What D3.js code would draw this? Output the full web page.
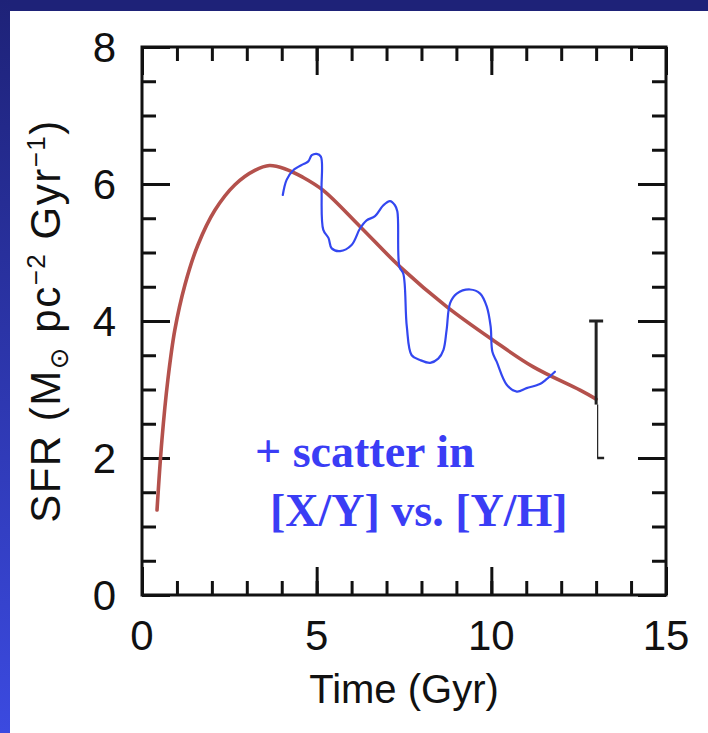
<!DOCTYPE html>
<html>
<head>
<meta charset="utf-8">
<script src="https://cdn.jsdelivr.net/npm/d3@7"></script>
<style>
  html, body { margin: 0; padding: 0; background: #1d2278; }
  svg { display: block; }
</style>
</head>
<body>
<svg id="chart" width="708" height="733"></svg>
<script>
// ---------------- data ----------------
const sfrTime  = [0.43, 0.57, 0.74, 0.94, 1.23, 1.6, 2.09, 2.66, 3.23, 3.65, 4.1, 4.6, 5.18, 6.24, 7.39, 8.72, 10.05, 11.2, 12.54, 13.0];
const sfrValue = [1.24, 2.26, 3.14, 3.87, 4.53, 5.11, 5.62, 5.99, 6.2, 6.27, 6.22, 6.1, 5.91, 5.38, 4.79, 4.21, 3.72, 3.33, 2.99, 2.86];

const scatterTime  = [4.03, 4.14, 4.33, 4.62, 4.76, 4.86, 5.0, 5.12, 5.14, 5.19, 5.34, 5.43, 5.67, 6.0, 6.24, 6.43, 6.67, 6.91, 7.1, 7.24, 7.31, 7.37, 7.48, 7.58, 7.72, 7.96, 8.25, 8.48, 8.63, 8.72, 8.82, 9.01, 9.39, 9.68, 9.87, 9.98, 10.03, 10.15, 10.44, 10.73, 11.01, 11.39, 11.58, 11.82];
const scatterValue = [5.84, 6.06, 6.2, 6.29, 6.33, 6.42, 6.44, 6.4, 5.91, 5.33, 5.21, 5.06, 5.02, 5.11, 5.35, 5.47, 5.53, 5.69, 5.75, 5.69, 5.6, 4.79, 4.69, 3.92, 3.5, 3.43, 3.39, 3.45, 3.58, 3.87, 4.26, 4.4, 4.46, 4.4, 4.21, 3.92, 3.55, 3.41, 3.07, 2.97, 3.02, 3.08, 3.15, 3.26];

const errTime = [13];
const errLow  = [2];
const errMid  = [2.78];
const errHigh = [4];

const xMajorTicks = [0, 5, 10, 15];
const xMinorTicks = d3.range(0, 15.001, 1);
const yMajorTicks = [0, 2, 4, 6, 8];
const yMinorTicks = d3.range(0, 8.001, 0.5);

const xLabel = "Time (Gyr)";
const noteLines = ["+ scatter in", "[X/Y] vs. [Y/H]"];

// ---------------- layout ----------------
const svg = d3.select("#chart");
const W = 708, H = 733;
const x = d3.scaleLinear().domain([0, 15]).range([142, 666]);
const y = d3.scaleLinear().domain([0, 8]).range([595, 47]);

// slide background
const defs = svg.append("defs");
const grad = defs.append("linearGradient").attr("id", "side").attr("x1", 0).attr("y1", 0).attr("x2", 0).attr("y2", 1);
grad.append("stop").attr("offset", "0%").attr("stop-color", "#1e2278");
grad.append("stop").attr("offset", "100%").attr("stop-color", "#3b4ae0");
svg.append("rect").attr("width", W).attr("height", H).attr("fill", "#1e2278");
svg.append("rect").attr("x", 0).attr("y", 0).attr("width", 10).attr("height", H).attr("fill", "url(#side)");
svg.append("rect").attr("x", 10).attr("y", 11).attr("width", W - 10).attr("height", H - 11).attr("fill", "#ffffff");

const tickFont = "'Liberation Sans', Arial, sans-serif";

function styleAxis(g) {
  g.select(".domain").remove();
  g.selectAll(".tick line").attr("stroke", "#111").attr("stroke-width", 3);
}

// minor + major ticks (inward) on all four sides
const [x0, x1] = x.range();
const [y0, y1] = y.range();
function addAxis(axisFn, scale, ticks, len, transform) {
  const a = axisFn(scale).tickValues(ticks).tickSize(-len).tickSizeOuter(0).tickFormat("");
  return svg.append("g").attr("transform", transform).call(a).call(styleAxis);
}
addAxis(d3.axisBottom, x, xMinorTicks, 14, `translate(0,${y0})`);
addAxis(d3.axisBottom, x, xMajorTicks, 28, `translate(0,${y0})`);
addAxis(d3.axisTop, x, xMinorTicks, 14, `translate(0,${y1})`);
addAxis(d3.axisTop, x, xMajorTicks, 28, `translate(0,${y1})`);
addAxis(d3.axisLeft, y, yMinorTicks, 14, `translate(${x0},0)`);
addAxis(d3.axisLeft, y, yMajorTicks, 28, `translate(${x0},0)`);
addAxis(d3.axisRight, y, yMinorTicks, 14, `translate(${x1},0)`);
addAxis(d3.axisRight, y, yMajorTicks, 28, `translate(${x1},0)`);

// tick labels
svg.append("g").selectAll("text").data(xMajorTicks).join("text")
  .attr("x", d => x(d)).attr("y", 650)
  .attr("text-anchor", "middle")
  .attr("font-family", tickFont).attr("font-size", 42).attr("fill", "#111")
  .text(d => d);
svg.append("g").selectAll("text").data(yMajorTicks).join("text")
  .attr("x", 116).attr("y", d => y(d) + 15)
  .attr("text-anchor", "end")
  .attr("font-family", tickFont).attr("font-size", 42).attr("fill", "#111")
  .text(d => d);

// frame
svg.append("rect").attr("x", x0).attr("y", y1).attr("width", x1 - x0).attr("height", y0 - y1)
  .attr("fill", "none").attr("stroke", "#111").attr("stroke-width", 3);

// axis titles
svg.append("text").attr("x", (x0 + x1) / 2).attr("y", 703)
  .attr("text-anchor", "middle").attr("font-family", tickFont).attr("font-size", 40).attr("fill", "#111")
  .text(xLabel);

const yl = svg.append("text").attr("transform", `translate(60,${(y0 + y1) / 2}) rotate(-90)`)
  .attr("text-anchor", "middle").attr("font-family", tickFont).attr("font-size", 42)
  .attr("letter-spacing", 1.5).attr("fill", "#111");
yl.append("tspan").text("SFR (M");
yl.append("tspan").attr("font-size", 26).attr("dy", 8).attr("font-family", "'DejaVu Sans', sans-serif").text("\u2299");
yl.append("tspan").attr("dy", -8).text(" pc");
yl.append("tspan").attr("font-size", 26).attr("dy", -15).text("\u22122");
yl.append("tspan").attr("dy", 15).text(" Gyr");
yl.append("tspan").attr("font-size", 26).attr("dy", -15).text("\u22121");
yl.append("tspan").attr("dy", 15).text(")");

// model curve
const line = d3.line().x(d => x(d[0])).y(d => y(d[1])).curve(d3.curveCatmullRom.alpha(0.5));
svg.append("path").datum(d3.zip(sfrTime, sfrValue))
  .attr("d", line).attr("fill", "none").attr("stroke", "#b4514c").attr("stroke-width", 3.6).attr("stroke-linecap", "round");

// error bar
errTime.forEach((t, i) => {
  const g = svg.append("g");
  g.append("line").attr("x1", x(t)).attr("x2", x(t)).attr("y1", y(errHigh[i])).attr("y2", y(errMid[i]))
    .attr("stroke", "#222").attr("stroke-width", 3);
  g.append("line").attr("x1", x(t) - 7).attr("x2", x(t) + 7).attr("y1", y(errHigh[i])).attr("y2", y(errHigh[i]))
    .attr("stroke", "#222").attr("stroke-width", 3);
  g.append("line").attr("x1", x(t) + 1.5).attr("x2", x(t) + 1.5).attr("y1", y(errMid[i])).attr("y2", y(errLow[i]))
    .attr("stroke", "#222").attr("stroke-width", 1.2);
  g.append("line").attr("x1", x(t) + 1).attr("x2", x(t) + 8).attr("y1", y(errLow[i])).attr("y2", y(errLow[i]))
    .attr("stroke", "#222").attr("stroke-width", 2.5);
});

// hand-drawn scatter line
const bline = d3.line().x(d => x(d[0])).y(d => y(d[1])).curve(d3.curveCatmullRom.alpha(0.5));
svg.append("path").datum(d3.zip(scatterTime, scatterValue))
  .attr("d", bline).attr("fill", "none").attr("stroke", "#3347f0").attr("stroke-width", 2.2)
  .attr("stroke-linejoin", "round").attr("stroke-linecap", "round");

// annotation
const noteX = [255, 270], noteY = [467, 526];
svg.append("g").selectAll("text").data(noteLines).join("text")
  .attr("x", (d, i) => noteX[i]).attr("y", (d, i) => noteY[i])
  .attr("font-family", "'Liberation Serif', 'Times New Roman', serif").attr("font-weight", "bold")
  .attr("font-size", 46).attr("fill", "#3a3df5")
  .text(d => d);
</script>
</body>
</html>
